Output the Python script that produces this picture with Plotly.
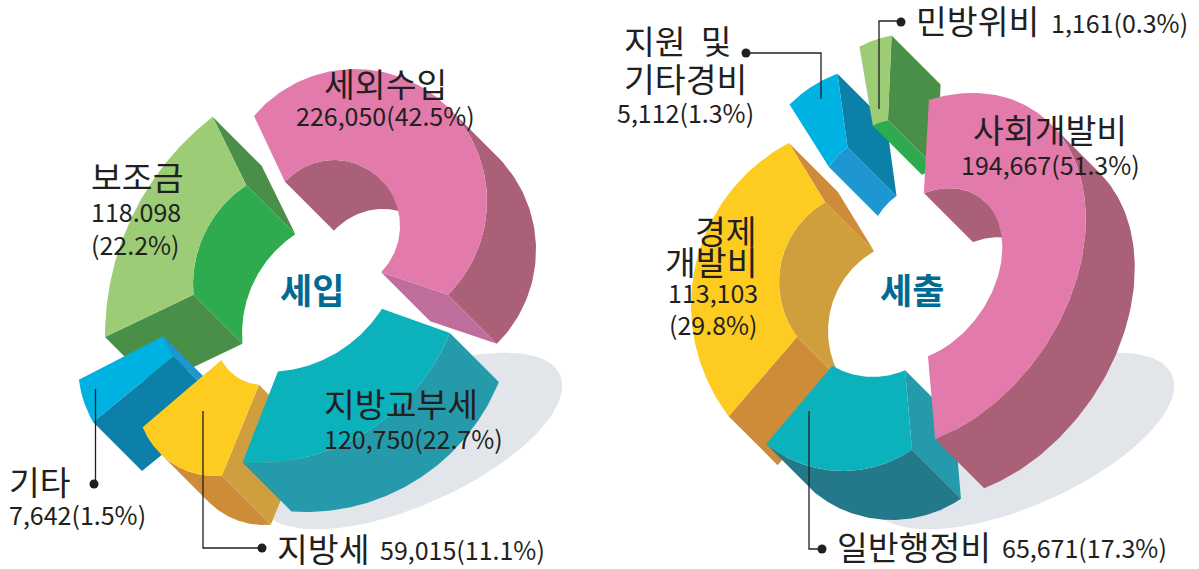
import numpy as np
import plotly.graph_objects as go

# ---------- data ----------
income_names = ["세외수입", "보조금", "지방교부세", "지방세", "기타"]
income_values = ["226,050", "118.098", "120,750", "59,015", "7,642"]
income_shares = [42.5, 22.2, 22.7, 11.1, 1.5]
spend_names = ["사회개발비", "경제", "일반행정비", "지원 및", "민방위비"]
spend_values = ["194,667", "113,103", "65,671", "5,112", "1,161"]
spend_shares = [51.3, 29.8, 17.3, 1.3, 0.3]
title_income = "세입"
title_spend = "세출"

# ---------- styles ----------
PINK = dict(top="#e27aab", outer="#aa6077", inner="#aa6077", end="#bf6e9b")
PINKR = dict(top="#e27aab", outer="#aa6077", inner="#aa6077")
LGREEN = dict(top="#9ccc75", inner="#2eaa4f", start="#4a8f48", end="#4a8f48")
RGREEN = dict(top="#9ccc75", inner="#2eaa4f", end="#4a8f48")
BLUE = dict(top="#00b2e2", inner="#1e96d1", end="#0d80aa")
YELLOWL = dict(top="#fecc21", outer="#cf8c38", end="#cf9f3d")
YELLOWR = dict(top="#fecc21", inner="#cf9f3d", start="#cf8c38", end="#cf8c38")
TEALL = dict(top="#0cb2bb", outer="#249aab")
TEALR = dict(top="#0cb2bb", outer="#23798a", start="#249aab")
SHADOW = "#e2e5ea"
INK = "#231f20"
TITLE_COLOR = "#006a93"
FONT = "Noto Sans CJK KR"
DEPTH = (49, 49)

# arcs as drawn in the picture: centre x, centre y, radius a, radius b, tilt, start angle, end angle
SLICES = [
    # left ring
    ((382, 336, 277, 277, 0, 127.7, 180.2), (312, 284.5, 119, 119, 0, 123.5, 185), LGREEN),
    ((190, 366, 112, 112, 0, 187, 210), (220, 320, 59, 59, 0, 196, 218), BLUE),
    ((215, 398, 78, 78, 0, 202, 275), (263, 338, 47, 47, 0, 208, 265), YELLOWL),
    ((257, 255, 208, 208, 0, -22, -94), (267, 236, 136, 136, 0, -32.4, -85.4), TEALL),
    ((355, 201, 132, 132, 0, 139.9, -45.3), (334, 226, 66, 66, 0, 138, -44.4), PINK),
    # right ring
    ((885, 200, 135, 135, 0, 135, 110.6), (885, 200, 65, 65, 0, 149.6, 125.2), BLUE),
    ((910, 140, 106, 106, 0, 118.5, 100), (910, 200, 83, 83, 0, 116.6, 105.4), RGREEN),
    ((874, 305, 183, 183, 0, 117.7, 217.4), (871, 282, 92, 92, 0, 119.9, 216.6), YELLOWR),
    ((843, 348, 123, 123, 0, -55.9, -128.7), (873, 298, 79, 79, 0, -66, -121), TEALR),
    ((925, 272, 195, 141, 55, 42.7, -132.3), (925, 275, 95, 67, 55, 45.6, -133), PINKR),
]
SHADOWS = [(411, 441, 163, 64, 24), (1023, 441, 163, 64, 24)]


def arc(c):
    cx, cy, a, b, rot, t0, t1 = c
    t = np.radians(np.linspace(t0, t1, 140))
    r = np.radians(rot)
    u = np.array([np.cos(r), -np.sin(r)])
    w = np.array([-np.sin(r), -np.cos(r)])
    pts = np.array([cx, cy]) + np.outer(a * np.cos(t), u) + np.outer(b * np.sin(t), w)
    normal = np.outer(np.cos(t) / a, u) + np.outer(np.sin(t) / b, w)
    return pts, normal @ np.array(DEPTH)


fig = go.Figure()


def poly(pts, color):
    pts = np.asarray(pts)
    fig.add_trace(go.Scatter(x=np.append(pts[:, 0], pts[0, 0]), y=np.append(pts[:, 1], pts[0, 1]),
                             mode="lines", fill="toself", fillcolor=color,
                             line=dict(width=0, color=color), hoverinfo="skip", showlegend=False))


e = np.array(DEPTH)
for c in SHADOWS:
    poly(arc((c[0], c[1], c[2], c[3], c[4], 0, 360))[0], SHADOW)

for out_c, in_c, st in SLICES:
    op, on = arc(out_c)
    ip, in_n = arc(in_c)
    if "start" in st:
        poly([op[0], ip[0], ip[0] + e, op[0] + e], st["start"])
    if "end" in st:
        poly([op[-1], ip[-1], ip[-1] + e, op[-1] + e], st["end"])
    if "inner" in st:
        v = ip[in_n < 0]
        if len(v):
            poly(np.vstack([v, (v + e)[::-1]]), st["inner"])
    if "outer" in st:
        v = op[on > 0]
        if len(v):
            poly(np.vstack([v, (v + e)[::-1]]), st["outer"])
    poly(np.vstack([op, ip[::-1]]), st["top"])

# ---------- leaders ----------
LEADERS = [
    ([95.5, 95.5], [389, 484], (94, 484)),
    ([203, 203, 262], [411, 548, 548], (262, 548)),
    ([746, 821, 821], [53, 53, 99], (746, 53)),
    ([901, 879, 879], [21, 21, 109], (901, 22)),
    ([809, 809, 822], [411, 549, 549], (822, 549)),
]
for xs, ys, dot in LEADERS:
    fig.add_trace(go.Scatter(x=xs, y=ys, mode="lines", line=dict(color=INK, width=1.3),
                             hoverinfo="skip", showlegend=False))
    fig.add_trace(go.Scatter(x=[dot[0]], y=[dot[1]], mode="markers", marker=dict(color=INK, size=9),
                             hoverinfo="skip", showlegend=False))

# ---------- text ----------
BIG, SMALL = 33.5, 25
DX = {"left": -3, "center": 0, "right": 2}


def label(x, y, text, size, anchor="left", color=INK, bold=False):
    fig.add_annotation(x=x + DX[anchor], y=y - 3, text=f"<b>{text}</b>" if bold else text, showarrow=False,
                       xanchor=anchor, yanchor="middle",
                       font=dict(family=FONT, size=size, color=color))


def amount(vals, shares, i):
    return f"{vals[i]}({shares[i]}%)"


label(385, 85, income_names[0], BIG, "center")
label(385, 118, amount(income_values, income_shares, 0), SMALL, "center")
label(92, 178, income_names[1], BIG)
label(92, 214, income_values[1], SMALL)
label(92, 247, f"({income_shares[1]}%)", SMALL)
label(325, 405, income_names[2], BIG)
label(325, 441, amount(income_values, income_shares, 2), SMALL)
label(278, 550, income_names[3], BIG)
label(381, 552, amount(income_values, income_shares, 3), SMALL)
label(10, 483, income_names[4], BIG)
label(10, 517, amount(income_values, income_shares, 4), SMALL)

label(1050, 131, spend_names[0], BIG, "center")
label(1050, 167, amount(spend_values, spend_shares, 0), SMALL, "center")
label(757, 232, spend_names[1], BIG, "right")
label(757, 263, "개발비", BIG, "right")
label(758, 295, spend_values[1], SMALL, "right")
label(758, 327, f"({spend_shares[1]}%)", SMALL, "right")
label(838, 548, spend_names[2], BIG)
label(1003, 550, amount(spend_values, spend_shares, 2), SMALL)
label(625, 42, spend_names[3].replace(" ", "  "), BIG)
label(625, 80, "기타경비", BIG)
label(618, 115, amount(spend_values, spend_shares, 3), SMALL)
label(917, 22, spend_names[4], BIG)
label(1052, 25, amount(spend_values, spend_shares, 4), SMALL)

label(311.5, 291, title_income, 35, "center", TITLE_COLOR, True)
label(911.5, 291, title_spend, 35, "center", TITLE_COLOR, True)

fig.update_layout(width=1199, height=569, margin=dict(l=0, r=0, t=0, b=0),
                  paper_bgcolor="white", plot_bgcolor="white", showlegend=False,
                  xaxis=dict(range=[0, 1199], visible=False, fixedrange=True),
                  yaxis=dict(range=[569, 0], visible=False, fixedrange=True))

fig.write_html("out.html", config=dict(displayModeBar=False),
               post_script="document.body.style.margin='0';document.body.style.overflow='hidden';")
